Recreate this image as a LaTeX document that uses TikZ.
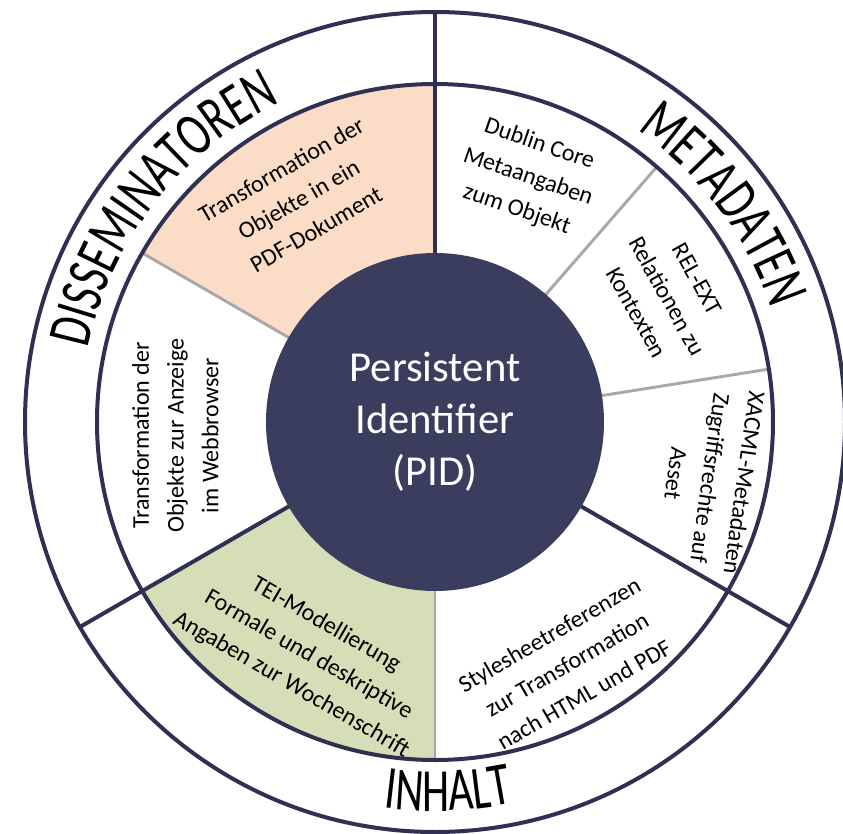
\documentclass[tikz,border=0pt]{standalone}
\usepackage{fontspec}
\setmainfont{Carlito}
\newfontfamily\ringfont[FakeStretch=0.71]{Carlito}
\usetikzlibrary{decorations.text}
\definecolor{navy}{HTML}{2F3052}
\definecolor{pidblue}{HTML}{3B3D5E}
\definecolor{greyline}{HTML}{A8A8A8}
\definecolor{peach}{HTML}{FBDCC6}
\definecolor{sage}{HTML}{D5DEB6}
\tikzset{
  darkline/.style={draw=navy,line width=3pt},
  greyl/.style={draw=greyline,line width=2.2pt},
  segtext/.style={align=center,font=\fontsize{18}{26}\selectfont,text=black,inner sep=0pt},
  pidnode/.style={circle,fill=pidblue,minimum size=253.5pt,inner sep=0pt,text=white,align=center,font=\fontsize{32}{39}\selectfont},
  ringlabel/.style={decorate,decoration={text along path,text align=center,text={|\ringfont\fontsize{46}{46}\selectfont|#1}}}
}
\begin{document}
\begin{tikzpicture}[x=0.75pt,y=0.75pt]
\fill[white] (-435,-411) rectangle (408,422);
\useasboundingbox (-435,-411) rectangle (408,422);
% coloured segments
\fill[peach] (90:169) -- (90:338) arc[start angle=90,end angle=150,radius=338] -- (150:169) arc[start angle=150,end angle=90,radius=169] -- cycle;
\fill[sage] (210:169) -- (210:338) arc[start angle=210,end angle=270,radius=338] -- (270:169) arc[start angle=270,end angle=210,radius=169] -- cycle;
% grey separators
\foreach \a in {150,270,9,49} \draw[greyl] (\a:160) -- (\a:338);
% dark separators
\foreach \a in {90,210,330} \draw[darkline] (\a:160) -- (\a:410);
% rings
\draw[darkline] (0,0) circle[radius=338];
\draw[darkline] (0,0) circle[radius=410];
% centre
\node[pidnode] (pid) at (0,0) {Persistent\\Identifier\\(PID)};
% segment texts
\node[segtext,rotate=30] (pdf) at (121.5:261) {Transformation der\\Objekte in ein\\PDF-Dokument};
\node[segtext,rotate=90] (web) at (183:260) {Transformation der\\Objekte zur Anzeige\\im Webbrowser};
\node[segtext,rotate=-30] (tei) at (241.5:265) {TEI-Modellierung\\Formale und deskriptive\\Angaben zur Wochenschrift};
\node[segtext,rotate=30] (style) at (298.5:276) {Stylesheetreferenzen\\zur Transformation\\nach HTML und PDF};
\node[segtext,rotate=-98] (xacml) at (348.5:281) {XACML-Metadaten\\Zugriffsrechte auf\\Asset};
\node[segtext,rotate=-61] (rel) at (28.5:264) {REL-EXT\\Relationen zu\\Kontexten};
\node[segtext,rotate=-19] (dc) at (69.2:262) {Dublin Core\\Metaangaben\\zum Objekt};
% ring labels
\path[ringlabel=DISSEMINATOREN] (192:355) arc[start angle=192,end angle=92,radius=355];
\path[ringlabel=METADATEN] (77:355) arc[start angle=77,end angle=-3,radius=355];
\path[ringlabel=INHALT] (232:389) arc[start angle=232,end angle=312,radius=389];
\end{tikzpicture}
\end{document}
